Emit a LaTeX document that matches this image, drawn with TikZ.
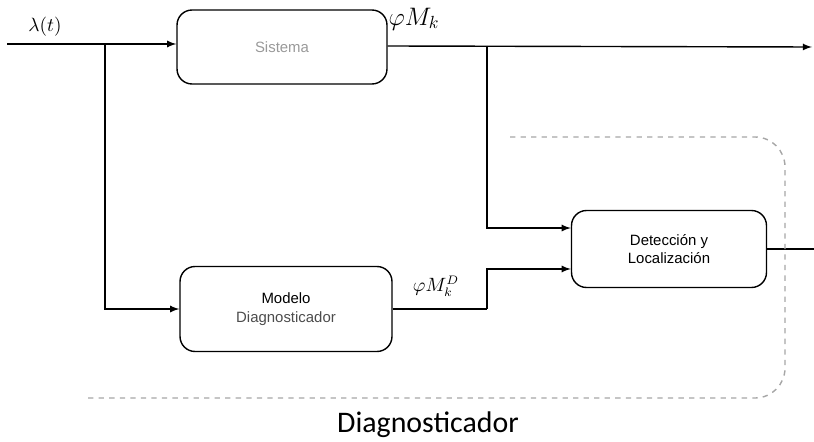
\documentclass[tikz,border=0pt]{standalone}
\usepackage{amsmath,amssymb}
\usepackage{fontspec}
\newfontfamily\boxfont{Liberation Sans}
\newfontfamily\capfont{Carlito}
\usepackage{tikz}
\usetikzlibrary{arrows}
\usetikzlibrary{positioning}

\begin{document}
\begin{tikzpicture}[x=0.02cm, y=-0.02cm,
		blok/.style={draw, thick, rounded corners=0.3cm, align=center,
			font=\boxfont\fontsize{8.5}{11.5}\selectfont},
		flow/.style={thick, -latex}]
		\useasboundingbox (0,0) rectangle (814,442);
		% bloques
		\node[blok, minimum width=4.2cm, minimum height=1.48cm, text=black!40] (sis) at (282,47) {Sistema};
		\node[blok, minimum width=4.24cm, minimum height=1.7cm] (mod) at (286,309) {Modelo\\[-1pt]\textcolor{black!70}{Diagnosticador}};
		\node[blok, minimum width=3.9cm, minimum height=1.54cm] (det) at (669,249) {Detección y\\[-1pt]Localización};
		% puntos
		\coordinate (in) at (7,44);
		\coordinate (b1) at (105,44);
		\coordinate (b2) at (487,46);
		\coordinate (out) at (812,47);
		\coordinate (m1) at (487,309);
		\coordinate (detout) at (814,249);
		% flechas
		\draw[flow] (in) -- (sis.west |- in);
		\draw[flow] (b1) |- (mod.west);
		\draw[flow] (sis.east |- b2) -- (out);
		\draw[flow] (b2) |- ([yshift=0.42cm]det.west);
		\draw[thick] (mod.east) -- (m1);
		\draw[flow] (m1) |- ([yshift=-0.4cm]det.west);
		\draw[thick] (det.east) -- (detout);
		% etiquetas
		\node (lam) at (45,27) {\fontsize{11}{13}\selectfont$\lambda(t)$};
		\node (phik) at (414,19) {\fontsize{14.5}{16}\selectfont$\varphi M_k$};
		\node (phid) at (436,286) {\fontsize{10.5}{12}\selectfont$\varphi M_k^D$};
		% diagnosticador
		\draw[dashed, gray!70, thick, rounded corners=0.6cm] (510,137) -- (785,137) -- (785,398) -- (88,398);
		\node (diag) at (428,425) {\capfont\fontsize{17}{20}\selectfont Diagnosticador};
	\end{tikzpicture}
\end{document}
